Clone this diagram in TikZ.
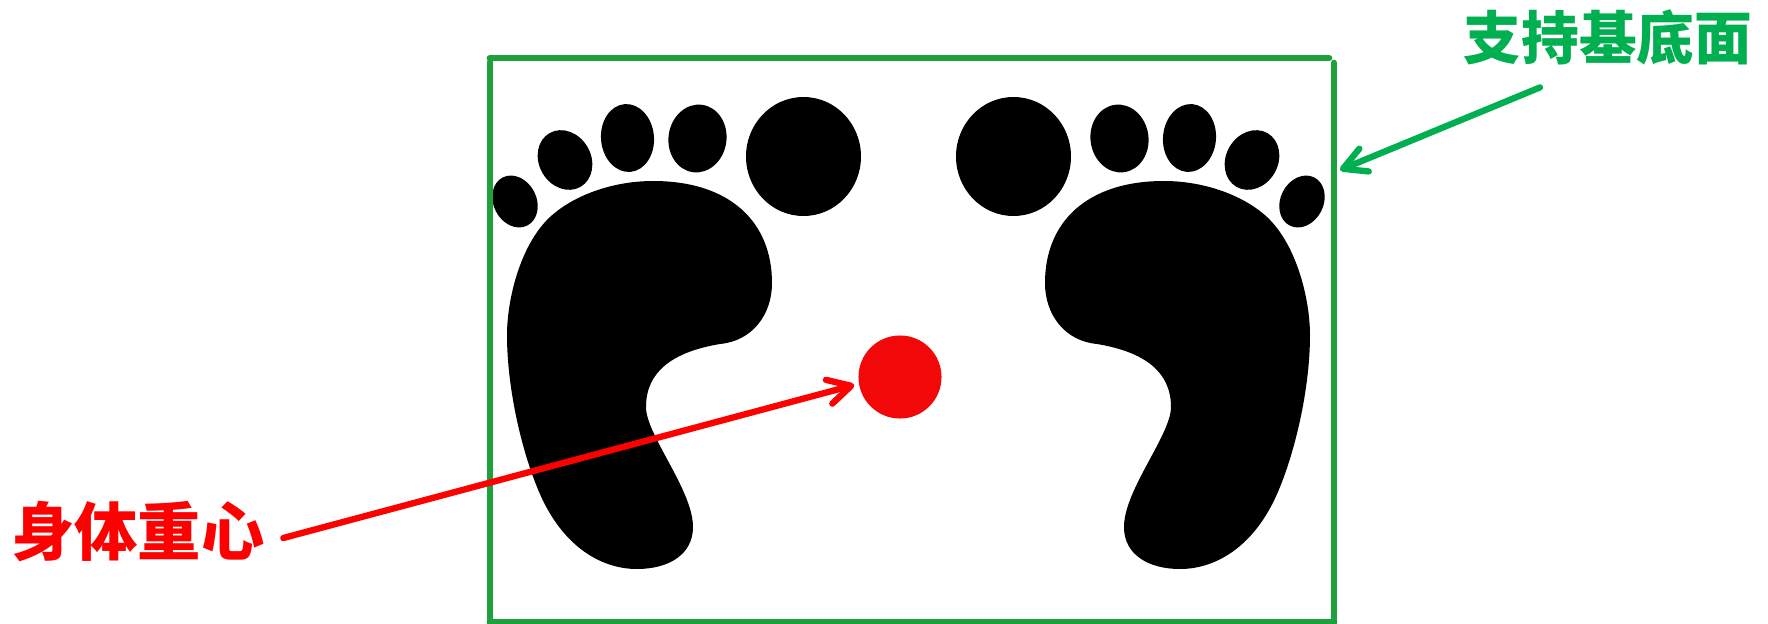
\documentclass[tikz,border=0pt]{standalone}
\usepackage{xcolor}
\usepackage{fontspec}
\usepackage{tikz}
\usetikzlibrary{calc}
\usetikzlibrary{arrows.meta}
\newfontfamily\cjkfont{Noto Sans CJK SC}
\definecolor{framegreen}{RGB}{30, 160, 60}
\definecolor{basegreen}{RGB}{0, 176, 80}
\definecolor{dotred}{RGB}{242, 8, 8}
\tikzset{
    footfill/.style={fill=black, draw=none},
    frameline/.style={line width=1.9pt, framegreen, line cap=round},
    labeltext/.style={inner sep=0pt, font=\cjkfont\bfseries},
    pointer/.style={line width=1.8pt, line cap=round, -{Straight Barb[round, length=6.5pt, width=7pt, line width=1.8pt]}},
    foot/.pic={
        \fill[footfill] (653,181) .. controls (730,181) and (772,222) .. (772,283)
            .. controls (772,315) and (752,341) .. (720,344)
            .. controls (672,352) and (646,372) .. (646,407)
            .. controls (646,435) and (693,490) .. (693,527)
            .. controls (693,555) and (668,569) .. (637,569)
            .. controls (600,569) and (560,545) .. (537,487)
            .. controls (520,445) and (507,385) .. (507,335)
            .. controls (507,300) and (520,245) .. (550,217)
            .. controls (575,194) and (615,181) .. (653,181) -- cycle;
        \fill[footfill] (803.5,156.5) ellipse [x radius=57.5, y radius=59.5];
        \fill[footfill] (697.5,138.5) ellipse [x radius=29, y radius=34, rotate=-8];
        \fill[footfill] (627.5,138) ellipse [x radius=26.5, y radius=34, rotate=5];
        \fill[footfill] (565,160) ellipse [x radius=26, y radius=31, rotate=30];
        \fill[footfill] (515,201.5) ellipse [x radius=21.5, y radius=27, rotate=27];
    }
}

\begin{document}
\begin{tikzpicture}[x=0.01cm, y=-0.01cm]
    \useasboundingbox (0,0) rectangle (1768,624);
    \pic at (0,0) {foot};
    \pic[xscale=-1] at (1817,0) {foot};
    \draw[frameline] (490,58) -- (1329,58);
    \draw[frameline] (490,62) -- (490,624);
    \draw[frameline] (1334,63) -- (1334,624);
    \draw[frameline] (490,622) -- (1334,622);
    \node[circle, fill=dotred, minimum size=0.83cm, inner sep=0pt] (comDot) at (900,377) {};
    \node[labeltext, text=red, font=\fontsize{18pt}{18pt}\cjkfont\bfseries] (bodyLabel) at (138,532) {身体重心};
    \node[labeltext, text=basegreen, font=\fontsize{16.4pt}{16.4pt}\cjkfont\bfseries] (baseLabel) at (1608,37) {支持基底面};
    \coordinate (baseTip) at (1340,170);
    \draw[pointer, red] ($(bodyLabel.east)+(18,6)$) -- ($(comDot.west)+(-3.5,8)$);
    \draw[pointer, basegreen] ($(baseLabel.south)+(-68,22)$) -- (baseTip);
\end{tikzpicture}
\end{document}
